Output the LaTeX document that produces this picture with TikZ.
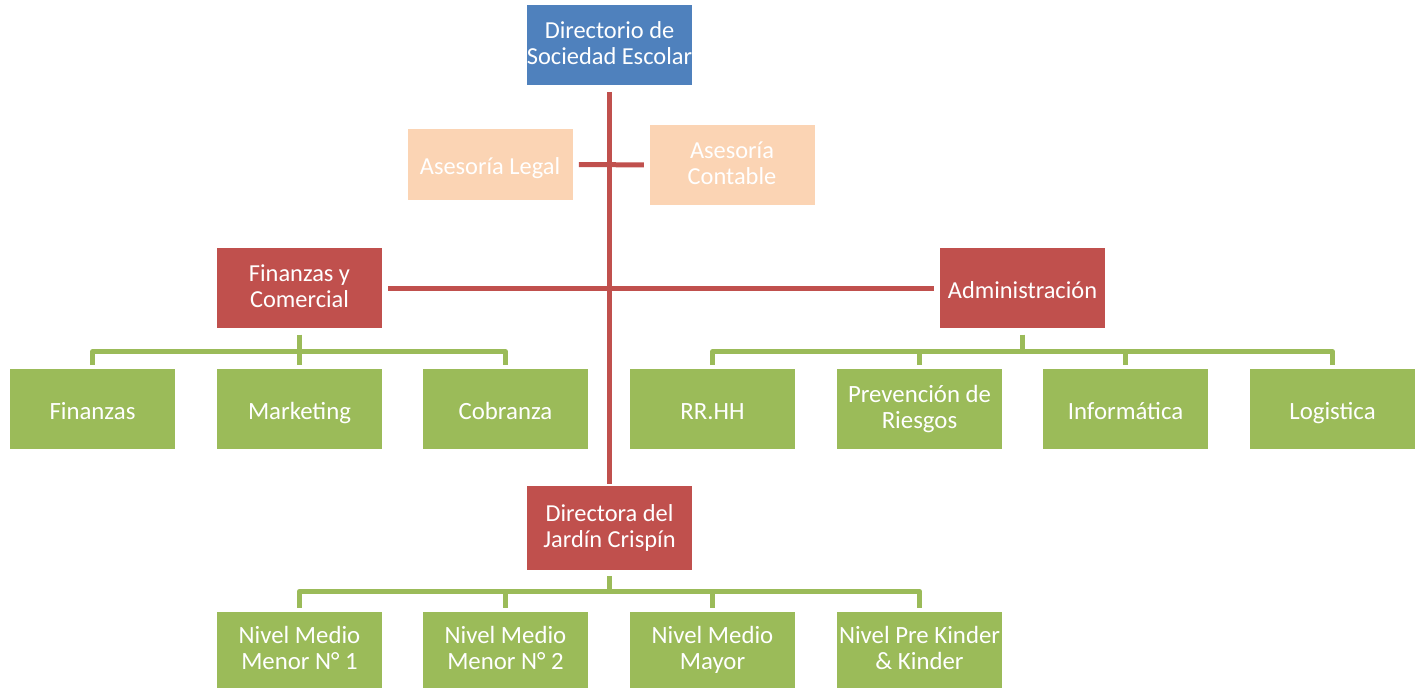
\documentclass[tikz,border=0pt]{standalone}
\usepackage{fontspec}
\setmainfont{Carlito}
\definecolor{boxblue}{HTML}{4F81BD}
\definecolor{boxred}{HTML}{C0504D}
\definecolor{boxgreen}{HTML}{9BBB59}
\definecolor{boxpeach}{HTML}{FBD4B4}
\newcommand{\boxstrut}{\rule[-3pt]{0pt}{20.5pt}}
\begin{document}
\begin{tikzpicture}[x=0.75pt,y=0.75pt,
  unit/.style={fill=#1,text=white,align=center,inner sep=0pt,
    minimum width=123.75pt,minimum height=60pt,font=\fontsize{18.3}{19.5}\selectfont,
    execute at begin node=\boxstrut,execute at end node=\boxstrut},
  leaf/.style={unit=boxgreen,font=\fontsize{18.6}{19.5}\selectfont},
  redline/.style={draw=boxred,line width=3.75pt,shorten <=4.5pt,shorten >=4pt},
  greenline/.style={draw=boxgreen,line width=3.75pt,line join=round,
    shorten <=4.5pt,shorten >=3pt}]
\useasboundingbox (0,0) rectangle (1421,688);
\node[unit=boxblue] (dir) at (609.5,642.5) {Directorio de\\Sociedad Escolar};
\node[unit=boxpeach,minimum height=53.25pt] (legal) at (490,523.5) {Asesoría Legal};
\node[unit=boxpeach] (cont) at (732,523) {Asesoría\\Contable};
\node[unit=boxred] (fin) at (299.5,399.5) {Finanzas y\\Comercial};
\node[unit=boxred] (adm) at (1022.5,399.5) {Administración};
\node[unit=boxred,minimum height=63pt] (dj) at (609.5,160) {Directora del\\Jardín Crispín};
% area de finanzas
\node[leaf] (fa) at (92.5,278.5) {Finanzas};
\node[leaf] (fb) at (299.5,278.5) {Marketing};
\node[leaf] (fc) at (505.5,278.5) {Cobranza};
% area de administracion
\node[leaf] (aa) at (712.5,278.5) {RR.HH};
\node[leaf] (ab) at (919.5,278.5) {Prevención de\\Riesgos};
\node[leaf] (ac) at (1125.5,278.5) {Informática};
\node[leaf] (ad) at (1332.5,278.5) {Logistica};
% niveles del jardin
\node[leaf,minimum height=57pt] (na) at (299.5,38) {Nivel Medio\\Menor N° 1};
\node[leaf,minimum height=57pt] (nb) at (505.5,38) {Nivel Medio\\Menor N° 2};
\node[leaf,minimum height=57pt] (nc) at (712.5,38) {Nivel Medio\\Mayor};
\node[leaf,minimum height=57pt] (nd) at (919.5,38) {Nivel Pre Kinder\\\& Kinder};
\draw[redline,shorten >=1.5pt] (dir) -- (dj);
\draw[redline] (legal) -- (cont);
\draw[redline] (fin) -- (adm);
\foreach \c in {fa,fb,fc}
  \draw[greenline] (fin.south) -- ++(0,-23) -| (\c.north);
\foreach \c in {aa,ab,ac,ad}
  \draw[greenline] (adm.south) -- ++(0,-23) -| (\c.north);
\foreach \c in {na,nb,nc,nd}
  \draw[greenline] (dj.south) -- ++(0,-21) -| (\c.north);
\end{tikzpicture}
\end{document}
